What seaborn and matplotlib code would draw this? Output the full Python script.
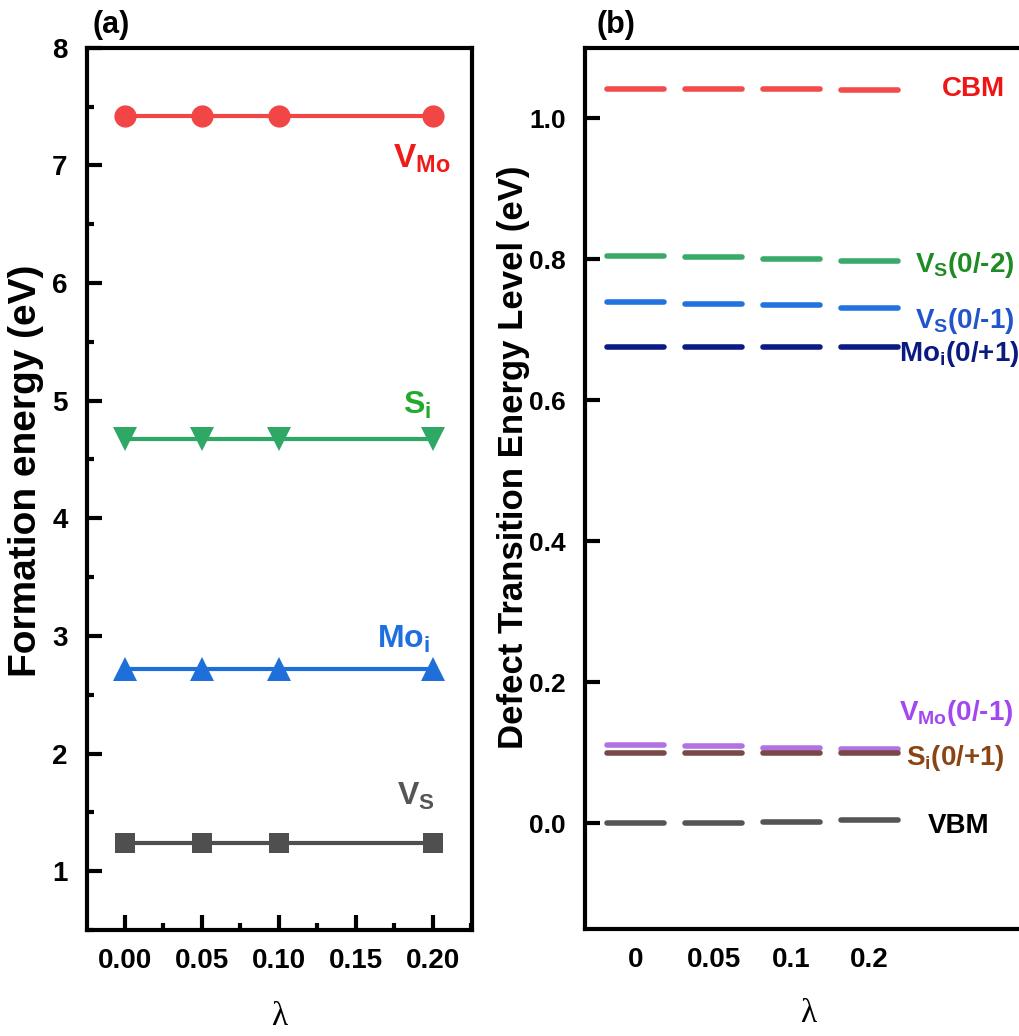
import numpy as np
import pandas as pd
import matplotlib
matplotlib.use("Agg")
import matplotlib.pyplot as plt
from matplotlib.ticker import MultipleLocator, FormatStrFormatter
import seaborn as sns

# ---- data -------------------------------------------------------------
lam = [0.00, 0.05, 0.10, 0.20]

# panel (a): formation energies (eV)
e_vmo = [7.42, 7.42, 7.42, 7.42]
e_si = [4.67, 4.67, 4.67, 4.67]
e_moi = [2.72, 2.72, 2.72, 2.72]
e_vs = [1.24, 1.24, 1.24, 1.24]

# panel (b): transition levels (eV)
lam_labels = ["0", "0.05", "0.1", "0.2"]
lvl_cbm = [1.041, 1.041, 1.041, 1.040]
lvl_vs_02 = [0.805, 0.803, 0.801, 0.797]
lvl_vs_01 = [0.739, 0.737, 0.735, 0.731]
lvl_moi_p1 = [0.675, 0.675, 0.675, 0.676]
lvl_vmo_01 = [0.111, 0.109, 0.107, 0.105]
lvl_si_p1 = [0.100, 0.100, 0.100, 0.100]
lvl_vbm = [0.000, 0.0005, 0.0015, 0.004]

# ---- style ------------------------------------------------------------
sns.set_theme(style="white")
plt.rcParams["font.family"] = ["Liberation Sans", "DejaVu Sans"]
plt.rcParams["font.weight"] = "bold"
plt.rcParams["text.color"] = "black"
plt.rcParams["axes.labelcolor"] = "black"
plt.rcParams["xtick.color"] = "black"
plt.rcParams["ytick.color"] = "black"
plt.rcParams["mathtext.fontset"] = "custom"
plt.rcParams["mathtext.rm"] = "Liberation Sans:bold"
plt.rcParams["mathtext.bf"] = "Liberation Sans:bold"
plt.rcParams["mathtext.it"] = "Liberation Sans:bold"

W, H = 1019, 1036
fig = plt.figure(figsize=(W / 100, H / 100), dpi=100)
fig.patch.set_facecolor("white")


def px_box(x0, x1, ytop, ybot):
    return [x0 / W, 1 - ybot / H, (x1 - x0) / W, (ybot - ytop) / H]


axa = fig.add_axes(px_box(87, 472, 47.7, 930))
axb = fig.add_axes(px_box(585, 1032, 47.7, 929))

for ax in (axa, axb):
    ax.set_facecolor("white")
    for s in ax.spines.values():
        s.set_linewidth(3.0)
        s.set_color("black")

# ---- panel (a) --------------------------------------------------------
series_a = [
    ("VMo", e_vmo, "#F24646", "o", 16),
    ("Si", e_si, "#2FA865", "v", 17),
    ("Moi", e_moi, "#1F6FDB", "^", 17),
    ("VS", e_vs, "#4F4F4F", "s", 14),
]
for name, vals, col, mk, ms in series_a:
    df = pd.DataFrame({"lam": lam, "E": vals})
    sns.lineplot(data=df, x="lam", y="E", ax=axa, color=col, lw=3.0,
                 marker=mk, markersize=ms, markeredgewidth=0, legend=False)

axa.set_xlim(-0.0245, 0.2255)
axa.set_ylim(0.5, 8.0)
axa.xaxis.set_major_locator(MultipleLocator(0.05))
axa.xaxis.set_minor_locator(MultipleLocator(0.025))
axa.yaxis.set_major_locator(MultipleLocator(1))
axa.yaxis.set_minor_locator(MultipleLocator(0.5))
axa.xaxis.set_major_formatter(FormatStrFormatter("%.2f"))
axa.tick_params(axis="both", which="major", direction="in", length=11,
                width=3, labelsize=20, bottom=True, left=True,
                top=False, right=False)
axa.tick_params(axis="both", which="minor", direction="in", length=5,
                width=3, bottom=True, left=True, top=False, right=False)
axa.tick_params(axis="x", which="major", pad=13)
axa.tick_params(axis="y", which="major", pad=14)
for lbl in axa.get_xticklabels() + axa.get_yticklabels():
    lbl.set_fontweight("bold")
axa.set_xlabel("λ", fontsize=24, fontweight="normal",
               family=["Liberation Serif", "DejaVu Serif"], labelpad=20)
axa.set_ylabel("Formation energy (eV)", fontsize=28, fontweight="bold",
               ha="center", va="center")
axa.yaxis.set_label_coords(-0.158, 0.52)

axa.text(0.174, 6.98, r"$\mathbf{V_{Mo}}$", color="#F01A1A", fontsize=24,
         ha="left", va="baseline")
axa.text(0.1806, 4.89, r"$\mathbf{S_{i}}$", color="#22AA2A", fontsize=23,
         ha="left", va="baseline")
axa.text(0.1638, 2.90, r"$\mathbf{Mo_{i}}$", color="#1E6FE0", fontsize=23,
         ha="left", va="baseline")
axa.text(0.1767, 1.56, r"$\mathbf{V_{S}}$", color="#555555", fontsize=23,
         ha="left", va="baseline")

# ---- panel (b) --------------------------------------------------------
half = 0.365
levels_b = [
    ("CBM", lvl_cbm, "#F24B4B"),
    ("VS02", lvl_vs_02, "#3AAA6A"),
    ("VS01", lvl_vs_01, "#2272E0"),
    ("Moi", lvl_moi_p1, "#0C1A85"),
    ("VMo", lvl_vmo_01, "#B273E2"),
    ("Si", lvl_si_p1, "#7A4848"),
    ("VBM", lvl_vbm, "#555555"),
]
rows = []
for name, vals, col in levels_b:
    for i, v in enumerate(vals):
        for dx in (-half, half):
            rows.append({"level": name, "seg": f"{name}-{i}",
                         "x": i + dx, "y": v})
dfb = pd.DataFrame(rows)
pal = {name: col for name, _, col in levels_b}
sns.lineplot(data=dfb, x="x", y="y", hue="level", units="seg",
             estimator=None, palette=pal, lw=4.0, sort=False,
             solid_capstyle="round", legend=False, ax=axb)

axb.set_xlim(-0.647, 5.08)
axb.set_ylim(-0.15, 1.1)
axb.set_xticks(range(len(lam_labels)))
axb.set_xticklabels(lam_labels)
axb.yaxis.set_major_locator(MultipleLocator(0.2))
axb.yaxis.set_major_formatter(FormatStrFormatter("%.1f"))
axb.tick_params(axis="x", which="major", length=0, labelsize=20, pad=13)
axb.tick_params(axis="y", which="major", direction="in", length=11,
                width=3, labelsize=19, pad=14, left=True, right=False)
for lbl in axb.get_xticklabels() + axb.get_yticklabels():
    lbl.set_fontweight("bold")
axb.set_xlabel("λ", fontsize=24, fontweight="normal",
               family=["Liberation Serif", "DejaVu Serif"], labelpad=18)
axb.set_ylabel("Defect Transition Energy Level (eV)", fontsize=25,
               fontweight="bold", ha="center", va="center")
axb.yaxis.set_label_coords(-0.161, 0.535)

fs_b = 20
axb.text(3.92, 1.031, "CBM", color="#F01515", fontsize=fs_b,
         fontweight="bold", ha="left", va="baseline")
axb.text(3.58, 0.782, r"$\mathbf{V_{S}}$(0/-2)", color="#1E8C22",
         fontsize=fs_b, fontweight="bold", ha="left", va="baseline")
axb.text(3.58, 0.702, r"$\mathbf{V_{S}}$(0/-1)", color="#2255CC",
         fontsize=fs_b, fontweight="bold", ha="left", va="baseline")
axb.text(3.38, 0.655, r"$\mathbf{Mo_{i}}$(0/+1)", color="#0A1A80",
         fontsize=fs_b, fontweight="bold", ha="left", va="baseline")
axb.text(3.38, 0.1465, r"$\mathbf{V_{Mo}}$(0/-1)", color="#A348F0",
         fontsize=fs_b, fontweight="bold", ha="left", va="baseline")
axb.text(3.47, 0.0827, r"$\mathbf{S_{i}}$(0/+1)", color="#8B4513",
         fontsize=fs_b, fontweight="bold", ha="left", va="baseline")
axb.text(3.74, -0.014, "VBM", color="black", fontsize=fs_b,
         fontweight="bold", ha="left", va="baseline")

# ---- panel tags -------------------------------------------------------
fig.text(93 / W, 1 - 25 / H, "(a)", fontsize=22, fontweight="bold",
         ha="left", va="center")
fig.text(597 / W, 1 - 25 / H, "(b)", fontsize=22, fontweight="bold",
         ha="left", va="center")

fig.savefig("out.png", dpi=100, facecolor="white")
